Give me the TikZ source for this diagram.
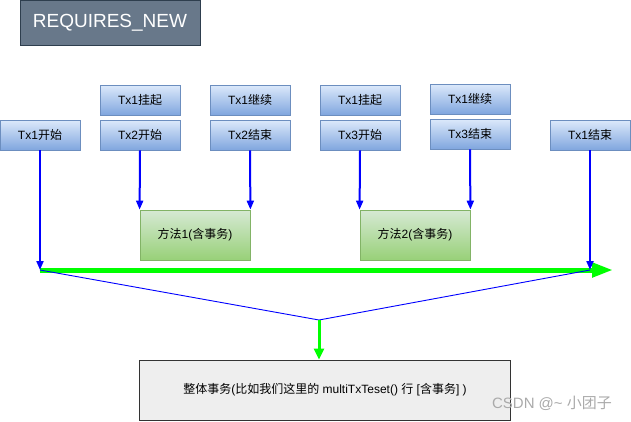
\documentclass[tikz,border=0pt]{standalone}
\usepackage{fontspec}
\setmainfont{Liberation Sans}
\newfontfamily\cjk{Noto Sans CJK SC}
\usetikzlibrary{arrows.meta}
\definecolor{bluetop}{RGB}{220,233,251}
\definecolor{bluebot}{RGB}{128,166,222}
\definecolor{blueedge}{RGB}{108,142,191}
\definecolor{greentop}{RGB}{214,233,212}
\definecolor{greenbot}{RGB}{152,208,120}
\definecolor{greenedge}{RGB}{130,179,102}
\definecolor{titlefill}{RGB}{104,120,138}
\definecolor{titleedge}{RGB}{46,62,78}
\definecolor{brightgreen}{RGB}{0,255,0}
\tikzset{
  txbox/.style={draw=blueedge, line width=0.8pt, top color=bluetop, bottom color=bluebot,
    minimum width=80pt, minimum height=30pt, inner sep=0pt, font=\fontsize{12}{14}\selectfont},
  methodbox/.style={draw=greenedge, line width=0.8pt, top color=greentop, bottom color=greenbot,
    minimum width=110pt, minimum height=50pt, inner sep=0pt, font=\fontsize{12}{14}\selectfont},
  bluearrow/.style={draw=blue, line width=2pt, -{Triangle[length=9pt,width=7pt]}},
  thinblue/.style={draw=blue, line width=0.9pt},
}
\begin{document}
\begin{tikzpicture}[x=1pt,y=-1pt]
\useasboundingbox (0,0) rectangle (631,421);
\fill[white] (0,0) rectangle (631,421);
% title
\node[draw=titleedge, line width=1pt, fill=titlefill, minimum width=180pt, minimum height=45pt,
  inner sep=0pt, text=white, font=\fontsize{19}{22}\selectfont] (title) at (110,22.5) {REQUIRES\_NEW};
% top boxes
\node[txbox] (t1s) at (40,135) {Tx1{\cjk 开始}};
\node[txbox] (s1) at (140,100) {Tx1{\cjk 挂起}};
\node[txbox] (t2s) at (140,135) {Tx2{\cjk 开始}};
\node[txbox] (c1) at (250,100) {Tx1{\cjk 继续}};
\node[txbox] (t2e) at (250,135) {Tx2{\cjk 结束}};
\node[txbox] (s2) at (360,100) {Tx1{\cjk 挂起}};
\node[txbox] (t3s) at (360,135) {Tx3{\cjk 开始}};
\node[txbox] (c2) at (470,99) {Tx1{\cjk 继续}};
\node[txbox] (t3e) at (470,134) {Tx3{\cjk 结束}};
\node[txbox] (t1e) at (590,135) {Tx1{\cjk 结束}};
% method boxes
\node[methodbox] (m1) at (195,235) {{\cjk 方法}1({\cjk 含事务})};
\node[methodbox] (m2) at (415,235) {{\cjk 方法}2({\cjk 含事务})};
% bottom box
\node[draw={rgb,255:red,51;green,51;blue,51}, line width=0.9pt, fill={rgb,255:red,238;green,238;blue,238},
  minimum width=371pt, minimum height=60pt, inner sep=0pt, font=\fontsize{12}{14}\selectfont] (bot) at (325,390)
  {{\cjk 整体事务}({\cjk 比如我们这里的} multiTxTeset() {\cjk 行} [{\cjk 含事务}] )};
% coordinates
\coordinate (gstart) at (40,270);
\coordinate (gend) at (613,270);
\coordinate (rend) at (590,270);
\coordinate (v) at (319,320);
% green timeline
\draw[brightgreen, line width=5pt, -{Triangle[length=21pt,width=14pt]}] (gstart) -- (gend);
% blue arrows
\draw[bluearrow] (t1s.south) -- (gstart);
\draw[bluearrow] (t1e.south) -- (rend);
\draw[bluearrow] (t2s.south) -- (m1.north west);
\draw[bluearrow] (t2e.south) -- (m1.north east);
\draw[bluearrow] (t3s.south) -- (m2.north west);
\draw[bluearrow] (t3e.south) -- (m2.north east);
% converging lines
\draw[thinblue] (gstart) -- (v) -- (rend);
\draw[brightgreen, line width=3pt, -{Triangle[length=11pt,width=10pt]}] (v) -- (v |- bot.north);
% watermark
\node[text={rgb,255:red,170;green,170;blue,170}, font=\fontsize{15}{17}\selectfont, inner sep=0pt] (wm) at (552,403) {CSDN @\textasciitilde{} {\cjk 小团子}};
\end{tikzpicture}
\end{document}
